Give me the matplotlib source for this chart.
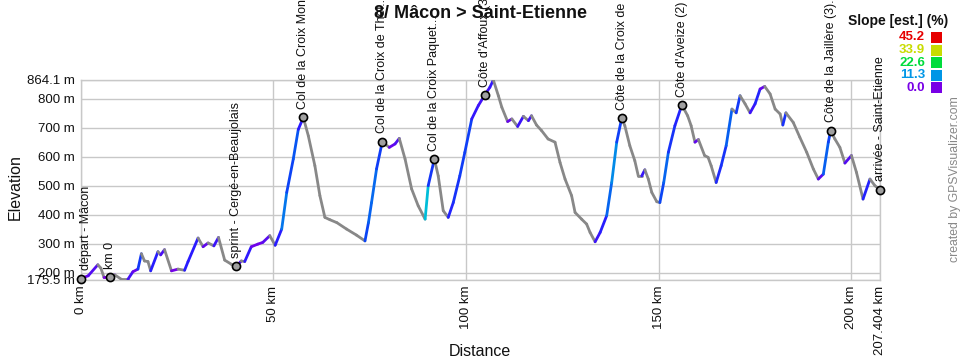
import numpy as np
import matplotlib
matplotlib.use("Agg")
import matplotlib.pyplot as plt
from matplotlib.collections import LineCollection
from matplotlib.colors import LinearSegmentedColormap

# ---------------- data ----------------
dist_km = [0, 2, 4.5, 5.3, 6.1, 7.6, 8.9, 10.6, 12.3, 13.6, 14.9, 15.8, 16.6, 17.5, 18.2,
           20.1, 20.8, 21.8, 23.6, 25.3, 27, 27.9, 30.5, 31.8, 33.1, 34.6, 35.8, 37.4, 39.1,
           40.4, 41.7, 42.6, 44.3, 46, 47.3, 49.1, 50.5, 52.2, 53.5, 55.2, 56.5, 57.8, 59.1,
           60.8, 62.1, 63.4, 64.7, 66.5, 69, 71.6, 73.8, 74.7, 75.5, 76.8, 78.3, 80.1, 81.6,
           82.7, 84.2, 85.9, 87.6, 89.4, 90.2, 91.8, 92.8, 94.1, 95.4, 96.7, 98.4, 99.7, 101.5,
           103.2, 104.9, 106.2, 107.1, 108.4, 109.3, 110.8, 111.9, 113.4, 114.9, 116.2, 117,
           118.3, 119.6, 121.3, 123.1, 124.4, 125.7, 127.4, 128.3, 130, 131.3, 132.2, 133.5,
           134.8, 136.5, 137.8, 139.1, 140.4, 141.2, 142.5, 143.8, 144.7, 145.6, 146.4, 147.3,
           148.2, 149.5, 150.3, 151.3, 152.5, 154.2, 156, 157.5, 158.4, 159.4, 160.3, 161.9,
           162.8, 163.6, 164.9, 166.2, 167.5, 169, 170.1, 171.1, 172.4, 173.7, 175, 176.3,
           177.5, 178.9, 180.2, 181.5, 182.2, 183, 184.9, 186.6, 188.4, 190.1, 191.4, 192.7,
           194, 194.6, 195.7, 197, 198.3, 200, 201.3, 203, 204.8, 206.1, 207.404]
elev_m = [180, 190, 228, 216, 184, 185, 193, 178, 178, 204, 213, 266, 241, 239, 207,
          273, 262, 280, 207, 213, 209, 239, 320, 290, 303, 293, 322, 244, 230,
          222, 241, 239, 290, 299, 305, 328, 295, 351, 477, 592, 694, 735, 672,
          569, 466, 391, 383, 373, 351, 330, 310, 373, 442, 558, 652, 632, 644,
          663, 592, 489, 431, 385, 500, 592, 534, 414, 391, 442, 534, 615, 730,
          776, 813, 839, 864, 810, 770, 721, 730, 704, 739, 724, 741,
          709, 690, 661, 650, 580, 523, 466, 408, 385, 368, 339, 307,
          339, 397, 511, 650, 733, 707, 638, 586, 534, 534, 555, 523,
          477, 445, 442, 511, 615, 707, 778, 741, 707, 650, 659, 604,
          598, 569, 511, 569, 638, 764, 751, 810, 782, 751, 782, 833,
          842, 816, 764, 747, 709, 751, 718, 667, 615, 558, 523, 540,
          650, 690, 661, 632, 578, 604, 546, 454, 523, 500, 486]

wp_names = ["départ - Mâcon", "km 0", "sprint - Cergé-en-Beaujolais",
            "Col de la Croix Montmain (2)", "Col de la Croix de Thel...",
            "Col de la Croix Paquet...", "Côte d'Affoux (3)",
            "Côte de la Croix de Fer (2)", "Côte d'Aveize (2)",
            "Côte de la Jaillère (3)...", "arrivée - Saint-Etienne"]
wp_km = [0, 7.6, 40.4, 57.8, 78.3, 91.8, 104.9, 140.4, 156.0, 194.6, 207.404]
wp_elev = [180, 185, 222, 735, 652, 592, 813, 733, 778, 690, 486]

y_ticks = [175.5, 200, 300, 400, 500, 600, 700, 800, 864.1]
y_labels = ["175.5 m", "200 m", "300 m", "400 m", "500 m", "600 m", "700 m", "800 m", "864.1 m"]
x_ticks = [0, 50, 100, 150, 200, 207.404]
x_labels = ["0 km", "50 km", "100 km", "150 km", "200 km", "207.404 km"]

legend_vals = [45.2, 33.9, 22.6, 11.3, 0.0]
legend_cols = ["#e60000", "#c8dc00", "#00dc3c", "#0096e6", "#7800e6"]

title = "8/ Mâcon > Saint-Etienne"

# ---------------- figure ----------------
plt.rcParams['font.family'] = ['Liberation Sans', 'DejaVu Sans']
fig = plt.figure(figsize=(9.6, 3.6), dpi=100)
ax = fig.add_axes([80.5 / 960, 80 / 360, 799.5 / 960, 200 / 360])

x = np.array(dist_km)
y = np.array(elev_m)
pts = np.column_stack([x, y]).reshape(-1, 1, 2)
segs = np.concatenate([pts[:-1], pts[1:]], axis=1)
slope = np.diff(y) / (np.diff(x) * 1000) * 100

cmap = LinearSegmentedColormap.from_list(
    "slope", [(0, "#7800e6"), (3 / 45.2, "#2a1aff"), (7 / 45.2, "#0a46f5"),
              (11.3 / 45.2, "#0096e6"), (16 / 45.2, "#00d2d2"), (22.6 / 45.2, "#00dc3c"),
              (33.9 / 45.2, "#c8dc00"), (1.0, "#e60000")])
cols = []
for s in slope:
    if s <= 0:
        cols.append("#888888")
    else:
        cols.append(cmap(min(s / 45.2, 1.0)))
lc = LineCollection(segs, colors=cols, linewidths=2.0, capstyle='round', zorder=3)
ax.add_collection(lc)

ax.set_xlim(0, 207.404)
ax.set_ylim(175.5, 864.1)
ax.set_yticks(y_ticks)
ax.set_yticklabels(y_labels, fontsize=9.5, color="#111111")
ax.set_xticks(x_ticks)
ax.set_xticklabels(x_labels, fontsize=9.5, rotation=90, color="#111111")
ax.tick_params(length=0, pad=4)
ax.grid(True, color="#c8c8c8", linewidth=1)
for sp in ax.spines.values():
    sp.set_color("#c8c8c8")
    sp.set_linewidth(1)
ax.set_axisbelow(True)

fig.text(15 / 960, 1 - 187 / 360, "Elevation", rotation=90, ha="center", va="center",
         fontsize=11.5, color="#111111")
fig.text(480 / 960, 1 - 352 / 360, "Distance", ha="center", va="center",
         fontsize=11.5, color="#111111")

# waypoints
ax.scatter(wp_km, wp_elev, s=34, facecolor="#a0a0a0", edgecolor="black",
           linewidth=1.2, zorder=5, clip_on=False)
for i, (name, xk, ye) in enumerate(zip(wp_names, wp_km, wp_elev)):
    dx = 4 if i == 0 else 0
    ax.annotate(name, (xk, ye), xytext=(dx, 6), textcoords="offset points",
                rotation=90, ha="center", va="bottom", fontsize=9,
                color="#111111", annotation_clip=False, zorder=6)

fig.text(0.5, 1 - 14 / 360, title, ha="center", va="center",
         fontsize=13, fontweight="bold", color="#111111")

# slope legend
fig.text(948 / 960, 1 - 21 / 360, "Slope [est.] (%)", ha="right", va="center",
         fontsize=10, fontweight="bold", color="#111111")
for i, (v, c) in enumerate(zip(legend_vals, legend_cols)):
    yy = 1 - (37.5 + i * 12.6) / 360
    fig.text(925 / 960, yy, f"{v:.1f}", ha="right", va="center",
             fontsize=9.5, fontweight="bold", color=c)
    fig.patches.append(plt.Rectangle((931 / 960, yy - 5.5 / 360), 11 / 960, 11 / 360,
                                     transform=fig.transFigure, facecolor=c,
                                     edgecolor="none", figure=fig))

fig.text(955 / 960, 1 - 179 / 360, "created by GPSVisualizer.com", rotation=90,
         ha="center", va="center", fontsize=8.8, color="#888888")

fig.savefig("out.png", dpi=100)
